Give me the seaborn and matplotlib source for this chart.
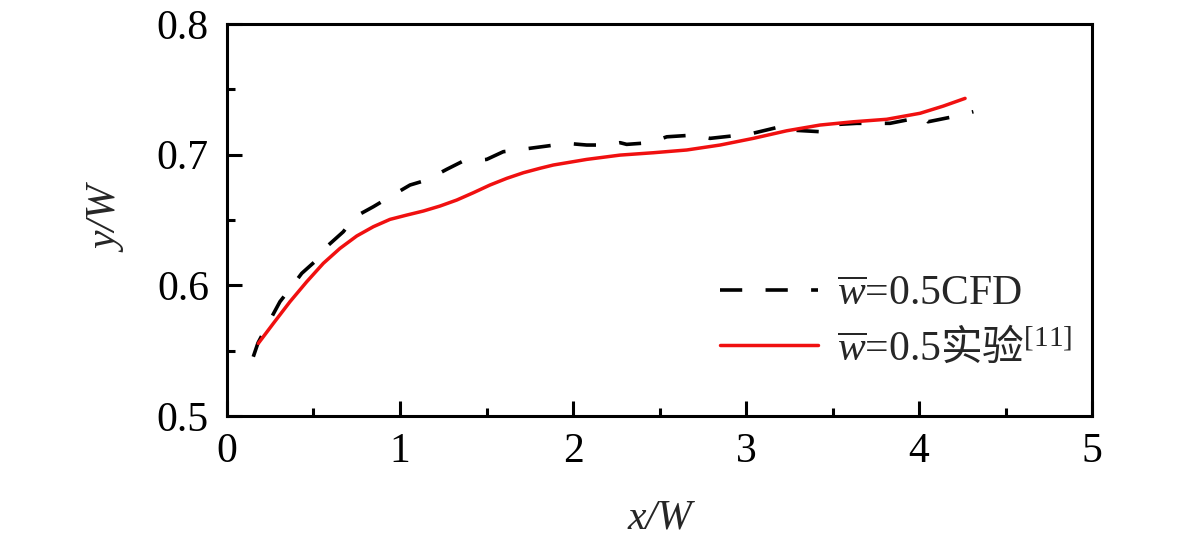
import matplotlib
matplotlib.use("Agg")
import matplotlib.pyplot as plt
import numpy as np
import pandas as pd
import seaborn as sns
from matplotlib.ticker import MultipleLocator

# CFD curve, w=0.5
cfd_x = [0.152, 0.179, 0.249, 0.306, 0.374, 0.432, 0.518, 0.576, 0.672, 0.740,
         0.846, 0.942, 1.058, 1.154, 1.270, 1.357, 1.501, 1.597, 1.751, 1.848,
         1.964, 2.079, 2.195, 2.272, 2.310, 2.445, 2.542, 2.695, 2.792, 2.965,
         3.040, 3.197, 3.216, 3.254, 3.428, 3.467, 3.640, 3.832, 4.025, 4.052,
         4.198, 4.314]
cfd_y = [0.5454, 0.5559, 0.5735, 0.5875, 0.5990, 0.6092, 0.6194, 0.6296, 0.6410, 0.6525,
         0.6602, 0.6678, 0.6768, 0.6806, 0.6888, 0.6946, 0.6964, 0.7023, 0.7049, 0.7066,
         0.7087, 0.7074, 0.7074, 0.7092, 0.7079, 0.7092, 0.7137, 0.7150, 0.7125, 0.7150,
         0.7164, 0.7214, 0.7227, 0.7189, 0.7176, 0.7227, 0.7240, 0.7240, 0.7291, 0.7252,
         0.7291, 0.7329]

# experiment [11], w=0.5
exp_x = [0.181, 0.268, 0.364, 0.461, 0.557, 0.653, 0.750, 0.846, 0.942, 1.039,
         1.135, 1.231, 1.328, 1.424, 1.520, 1.617, 1.713, 1.809, 1.886, 2.079,
         2.272, 2.464, 2.657, 2.850, 3.042, 3.235, 3.428, 3.620, 3.813, 4.006,
         4.140, 4.266]
exp_y = [0.5556, 0.5709, 0.5875, 0.6028, 0.6169, 0.6283, 0.6378, 0.6449, 0.6505, 0.6538,
         0.6569, 0.6607, 0.6653, 0.6709, 0.6768, 0.6819, 0.6862, 0.6896, 0.6921, 0.6964,
         0.6997, 0.7015, 0.7036, 0.7074, 0.7125, 0.7183, 0.7227, 0.7252, 0.7271, 0.7317,
         0.7372, 0.7431]

label_cfd = r"$\overline{w}$=0.5CFD"
label_exp = r"$\overline{w}$=0.5$\mathsf{实验}^{[11]}$"

sns.set_style("ticks")
plt.rcParams["font.family"] = ["Liberation Serif", "Noto Sans CJK SC"]
plt.rcParams["mathtext.fontset"] = "custom"
plt.rcParams["mathtext.rm"] = "Liberation Serif"
plt.rcParams["mathtext.it"] = "Liberation Serif:italic"
plt.rcParams["mathtext.sf"] = "Noto Sans CJK SC"

cfd = pd.DataFrame({"x": cfd_x, "y": cfd_y})
exp = pd.DataFrame({"x": exp_x, "y": exp_y})

fig, ax = plt.subplots(figsize=(11.81, 5.46), dpi=100)
fig.subplots_adjust(left=0.1922, right=0.9247, top=0.956, bottom=0.238)

lw_d = 2.6
sns.lineplot(data=cfd, x="x", y="y", ax=ax, color="black", linewidth=lw_d,
             estimator=None, sort=False, label=label_cfd,
             linestyle=(0, (16 / lw_d, 16.8 / lw_d)))
sns.lineplot(data=exp, x="x", y="y", ax=ax, color="#f01010", linewidth=2.5,
             estimator=None, sort=False, label=label_exp)

ax.set_xlim(0, 5)
ax.set_ylim(0.5, 0.8)
ax.xaxis.set_major_locator(MultipleLocator(1))
ax.xaxis.set_minor_locator(MultipleLocator(0.5))
ax.yaxis.set_minor_locator(MultipleLocator(0.05))
ax.set_yticks([0.5, 0.6, 0.7, 0.8])
ax.set_yticklabels(["0.5", "0.6", "0.7", "0.8"])

for s in ax.spines.values():
    s.set_linewidth(2.2)
    s.set_color("black")
ax.tick_params(which="both", direction="in", width=2.2, colors="black",
               labelsize=30, top=False, right=False)
ax.tick_params(which="major", length=11)
ax.tick_params(which="minor", length=6)
ax.tick_params(axis="x", pad=12)
ax.tick_params(axis="y", pad=13)

ax.set_xlabel("x/W", fontsize=30, style="italic", labelpad=20)
ax.set_ylabel("y/W", fontsize=30, style="italic", labelpad=21)

ax.legend(loc="center left", bbox_to_anchor=(0.570, 0.240), frameon=False,
          fontsize=30, handlelength=2.35, handletextpad=0.46,
          labelspacing=0.3, borderpad=0, borderaxespad=0)

fig.savefig("out.png", dpi=100)
